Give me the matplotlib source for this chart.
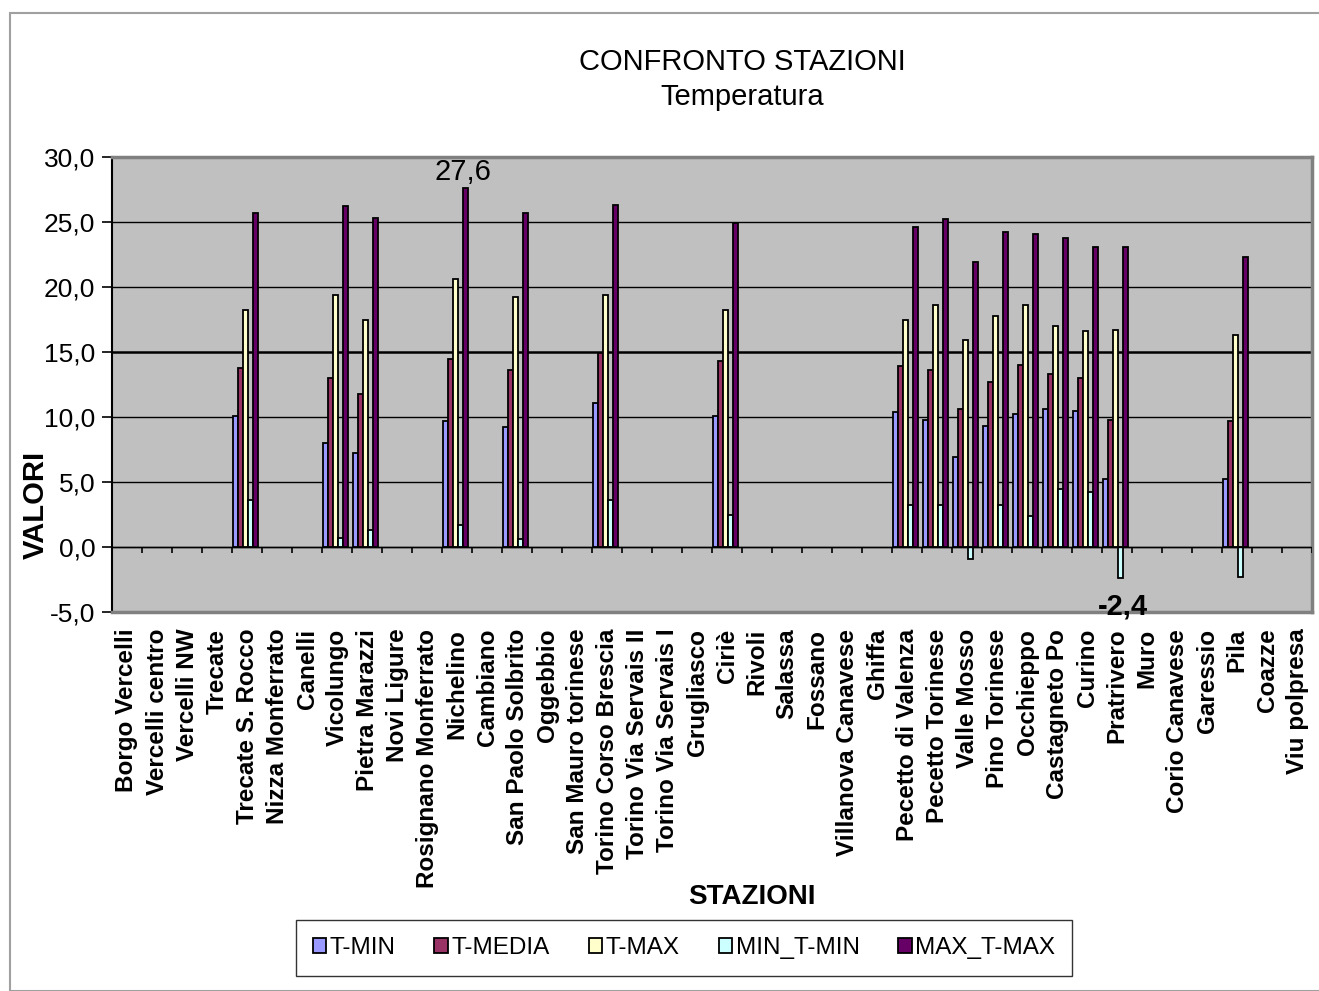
import numpy as np
import matplotlib.pyplot as plt
from matplotlib.patches import Rectangle

plt.rcParams['font.family'] = ['Liberation Sans', 'DejaVu Sans']

stazioni = ['Borgo Vercelli', 'Vercelli centro', 'Vercelli NW', 'Trecate',
            'Trecate S. Rocco', 'Nizza Monferrato', 'Canelli', 'Vicolungo',
            'Pietra Marazzi', 'Novi Ligure', 'Rosignano Monferrato', 'Nichelino',
            'Cambiano', 'San Paolo Solbrito', 'Oggebbio', 'San Mauro torinese',
            'Torino Corso Brescia', 'Torino Via Servais II', 'Torino Via Servais I',
            'Grugliasco', 'Ciriè', 'Rivoli', 'Salassa', 'Fossano',
            'Villanova Canavese', 'Ghiffa', 'Pecetto di Valenza', 'Pecetto Torinese',
            'Valle Mosso', 'Pino Torinese', 'Occhieppo', 'Castagneto Po', 'Curino',
            'Pratrivero', 'Muro', 'Corio Canavese', 'Garessio', 'Pila', 'Coazze',
            'Viu polpresa']

n = np.nan
t_min = [n, n, n, n, 10.1, n, n, 8.0, 7.2, n, n, 9.7, n, 9.2, n, n, 11.1, n, n, n,
         10.1, n, n, n, n, n, 10.4, 9.8, 6.9, 9.3, 10.2, 10.6, 10.5, 5.2, n, n, n, 5.2, n, n]
t_media = [n, n, n, n, 13.8, n, n, 13.0, 11.8, n, n, 14.5, n, 13.6, n, n, 14.9, n, n, n,
           14.3, n, n, n, n, n, 13.9, 13.6, 10.6, 12.7, 14.0, 13.3, 13.0, 9.8, n, n, n, 9.7, n, n]
t_max = [n, n, n, n, 18.2, n, n, 19.4, 17.5, n, n, 20.6, n, 19.2, n, n, 19.4, n, n, n,
         18.2, n, n, n, n, n, 17.5, 18.6, 15.9, 17.8, 18.6, 17.0, 16.6, 16.7, n, n, n, 16.3, n, n]
min_t_min = [n, n, n, n, 3.6, n, n, 0.7, 1.3, n, n, 1.7, n, 0.6, n, n, 3.6, n, n, n,
             2.5, n, n, n, n, n, 3.2, 3.2, -0.9, 3.2, 2.4, 4.5, 4.2, -2.4, n, n, n, -2.3, n, n]
max_t_max = [n, n, n, n, 25.7, n, n, 26.2, 25.3, n, n, 27.6, n, 25.7, n, n, 26.3, n, n, n,
             24.9, n, n, n, n, n, 24.6, 25.2, 21.9, 24.2, 24.1, 23.8, 23.1, 23.1, n, n, n, 22.3, n, n]

serie = ['T-MIN', 'T-MEDIA', 'T-MAX', 'MIN_T-MIN', 'MAX_T-MAX']
colori = ['#9999FF', '#993366', '#FFFFCC', '#CCFFFF', '#660066']
yticks = [-5, 0, 5, 10, 15, 20, 25, 30]
ytick_labels = ['-5,0', '0,0', '5,0', '10,0', '15,0', '20,0', '25,0', '30,0']

fig = plt.figure(figsize=(13.19, 9.91), dpi=100)
ax = fig.add_axes([112/1319, 1-612/991, 1200/1319, 455/991])

# outer chart border
fig.patches.append(Rectangle((10/1319, 0), 1.2, 1-13/991, transform=fig.transFigure,
                             fill=False, edgecolor='#A0A0A0', linewidth=1.5))

ax.set_facecolor('#C0C0C0')
x = np.arange(len(stazioni))
w = 1/6
for i, (vals, col, lab) in enumerate(zip([t_min, t_media, t_max, min_t_min, max_t_max], colori, serie)):
    ax.bar(x + (i-2)*w - 0.04, vals, w, color=col, edgecolor='black', linewidth=1.3, label=lab, zorder=3)

ax.set_xlim(-0.5, len(stazioni)-0.5)
ax.set_ylim(-5, 30)
for yv in yticks[1:-1]:
    ax.axhline(yv, color='black', linewidth=1.8 if yv == 15 else 1.0, zorder=1)
ax.axhline(0, color='black', linewidth=1.0, zorder=4)
# category separators on the zero axis
ax.vlines(np.arange(len(stazioni)+1)-0.5, -0.45, 0, color='black', linewidth=1.2, zorder=4)

for s in ['top', 'right', 'bottom']:
    ax.spines[s].set_color('#808080')
    ax.spines[s].set_linewidth(2.5)
ax.spines['left'].set_color('black')
ax.spines['left'].set_linewidth(1.5)

ax.set_yticks(yticks)
ax.set_yticklabels(ytick_labels, fontsize=19)
ax.tick_params(axis='y', length=7, width=1.2, pad=5)
ax.set_xticks(x)
ax.set_xticklabels(stazioni, rotation=90, fontsize=17.5, fontweight='bold')
ax.tick_params(axis='x', length=0, pad=12)

# data labels for extremes
ax.text(11 + 0.2, 27.6 + 0.2, '27,6', ha='center', va='bottom', fontsize=21)
ax.text(33 + 0.2, -2.4 - 1.1, '-2,4', ha='center', va='top', fontsize=21, fontweight='bold')

fig.text(742/1319, 1-62/991, 'CONFRONTO STAZIONI', ha='center', va='center', fontsize=21)
fig.text(742/1319, 1-97/991, 'Temperatura', ha='center', va='center', fontsize=21)
fig.text(752/1319, 1-897/991, 'STAZIONI', ha='center', va='center', fontsize=20, fontweight='bold')
fig.text(36/1319, 1-505/991, 'VALORI', ha='center', va='center', rotation=90, fontsize=21, fontweight='bold')

leg = fig.legend(loc='center', bbox_to_anchor=(684/1319, 1-948/991), ncol=5, fontsize=17.5,
                 frameon=True, fancybox=False, edgecolor='black', handlelength=0.55,
                 handleheight=0.55, handletextpad=0.15, columnspacing=1.6, borderpad=0.7)
leg.get_frame().set_linewidth(1.0)

fig.savefig('out.png', dpi=100)
